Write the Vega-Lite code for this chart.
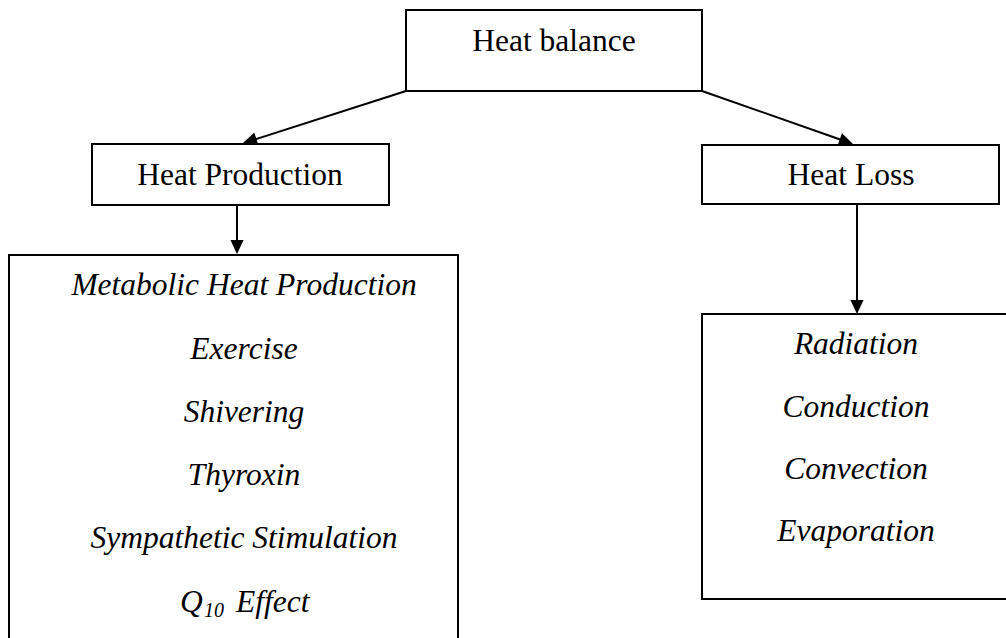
{
  "$schema": "https://vega.github.io/schema/vega-lite/v6.json",
  "autosize": {"type": "fit", "contains": "padding"},
  "width": 1006,
  "height": 638,
  "padding": 0,
  "background": "white",
  "config": {"view": {"stroke": null}},
  "datasets": {
    "boxes": [
      {"name": "Heat balance", "x1": 406, "x2": 702, "y1": 10, "y2": 91},
      {"name": "Heat Production", "x1": 92, "x2": 389, "y1": 144, "y2": 205},
      {"name": "Heat Loss", "x1": 702, "x2": 999, "y1": 145, "y2": 204},
      {"name": "Production list", "x1": 9, "x2": 458, "y1": 255, "y2": 660},
      {"name": "Loss list", "x1": 702, "x2": 1020, "y1": 314, "y2": 599}
    ],
    "arrows": [
      {"from": "Heat balance", "to": "Heat Production", "x1": 406, "y1": 91, "x2": 253, "y2": 140, "tx": 243, "ty": 143, "angle": 72},
      {"from": "Heat balance", "to": "Heat Loss", "x1": 702, "y1": 91, "x2": 843, "y2": 140.5, "tx": 853, "ty": 144, "angle": 289.3},
      {"from": "Heat Production", "to": "Production list", "x1": 237, "y1": 205, "x2": 237, "y2": 244, "tx": 237, "ty": 254, "angle": 0},
      {"from": "Heat Loss", "to": "Loss list", "x1": 857, "y1": 204, "x2": 857, "y2": 304, "tx": 857, "ty": 314, "angle": 0}
    ],
    "titles": [
      {"text": "Heat balance", "x": 554, "y": 51},
      {"text": "Heat Production", "x": 240, "y": 185},
      {"text": "Heat Loss", "x": 851, "y": 185}
    ],
    "items": [
      {"text": "Metabolic Heat Production", "x": 244, "y": 295},
      {"text": "Exercise", "x": 244, "y": 359},
      {"text": "Shivering", "x": 244, "y": 422},
      {"text": "Thyroxin", "x": 244, "y": 485},
      {"text": "Sympathetic Stimulation", "x": 244, "y": 548},
      {"text": "Radiation", "x": 856, "y": 354},
      {"text": "Conduction", "x": 856, "y": 417},
      {"text": "Convection", "x": 856, "y": 479},
      {"text": "Evaporation", "x": 856, "y": 541}
    ],
    "q10": [
      {"text": "Q", "x": 180, "y": 612, "size": 31.5},
      {"text": "10", "x": 204, "y": 617, "size": 20},
      {"text": "Effect", "x": 236, "y": 612, "size": 31.5}
    ]
  },
  "layer": [
    {
      "data": {"name": "boxes"},
      "mark": {"type": "rect", "fill": "white", "stroke": "black", "strokeWidth": 2, "clip": true},
      "encoding": {
        "x": {"field": "x1", "type": "quantitative", "scale": {"domain": [0, 1006], "nice": false, "zero": false}, "axis": null},
        "x2": {"field": "x2"},
        "y": {"field": "y1", "type": "quantitative", "scale": {"domain": [0, 638], "nice": false, "zero": false, "reverse": true}, "axis": null},
        "y2": {"field": "y2"}
      }
    },
    {
      "data": {"name": "arrows"},
      "mark": {"type": "rule", "stroke": "black", "strokeWidth": 2},
      "encoding": {
        "x": {"field": "x1", "type": "quantitative"},
        "x2": {"field": "x2"},
        "y": {"field": "y1", "type": "quantitative"},
        "y2": {"field": "y2"}
      }
    },
    {
      "data": {"name": "arrows"},
      "mark": {"type": "point", "filled": true, "fill": "black", "stroke": null, "opacity": 1, "size": 784, "shape": "M0,0 L-0.47,-1 L0.47,-1 Z"},
      "encoding": {
        "x": {"field": "tx", "type": "quantitative"},
        "y": {"field": "ty", "type": "quantitative"},
        "angle": {"field": "angle", "type": "quantitative", "scale": null}
      }
    },
    {
      "data": {"name": "titles"},
      "mark": {"type": "text", "font": "Liberation Serif", "fontSize": 31.5, "align": "center", "baseline": "alphabetic", "color": "black"},
      "encoding": {
        "x": {"field": "x", "type": "quantitative"},
        "y": {"field": "y", "type": "quantitative"},
        "text": {"field": "text"}
      }
    },
    {
      "data": {"name": "items"},
      "mark": {"type": "text", "font": "Liberation Serif", "fontStyle": "italic", "fontSize": 31.5, "align": "center", "baseline": "alphabetic", "color": "black"},
      "encoding": {
        "x": {"field": "x", "type": "quantitative"},
        "y": {"field": "y", "type": "quantitative"},
        "text": {"field": "text"}
      }
    },
    {
      "data": {"name": "q10"},
      "mark": {"type": "text", "font": "Liberation Serif", "fontStyle": "italic", "align": "left", "baseline": "alphabetic", "color": "black"},
      "encoding": {
        "x": {"field": "x", "type": "quantitative"},
        "y": {"field": "y", "type": "quantitative"},
        "size": {"field": "size", "type": "quantitative", "scale": null},
        "text": {"field": "text"}
      }
    }
  ]
}
